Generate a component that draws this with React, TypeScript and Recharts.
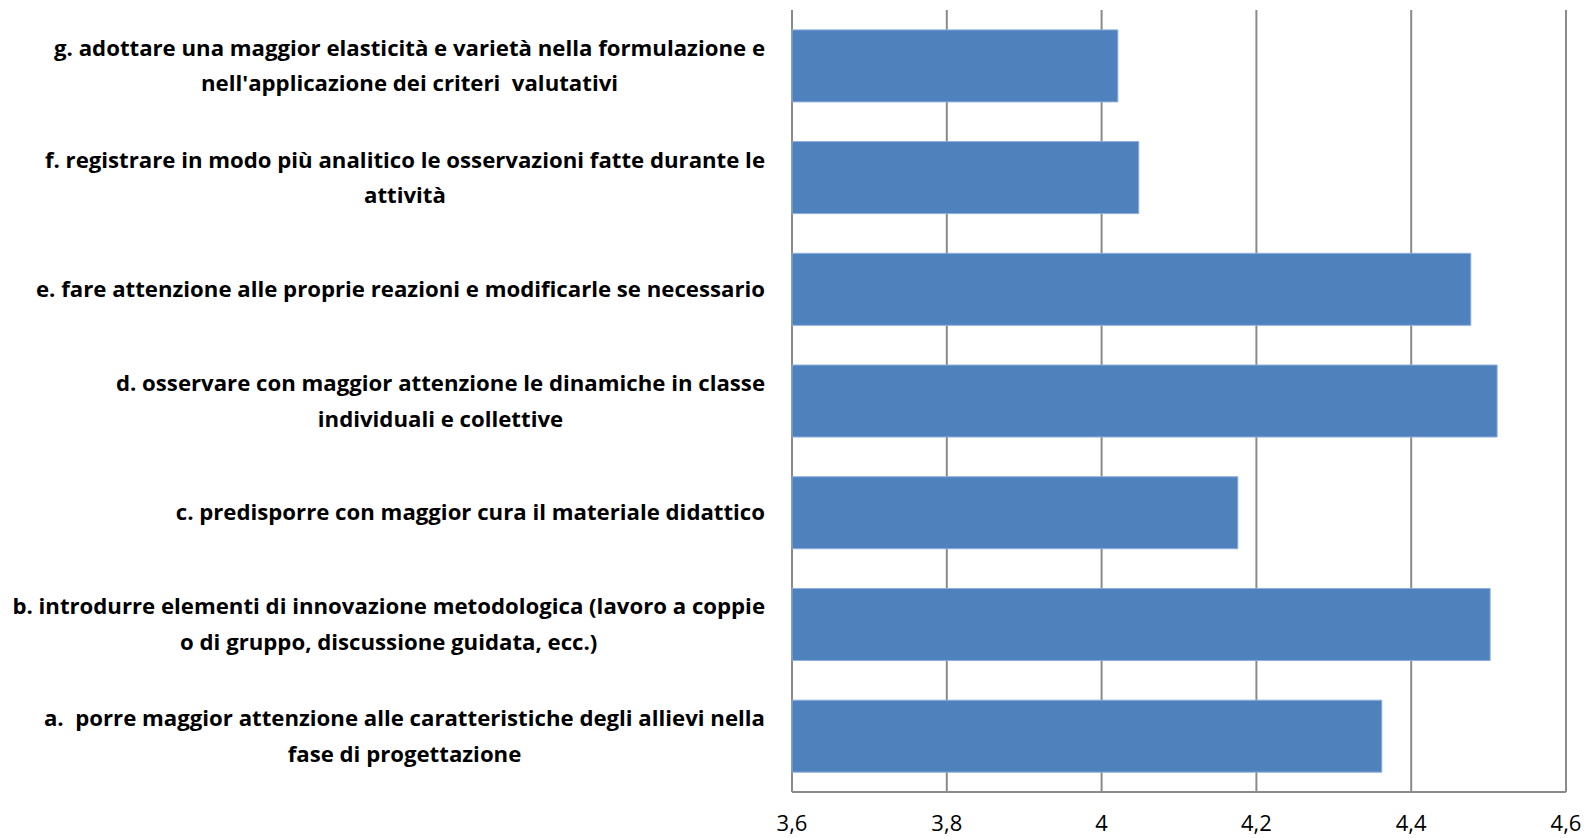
import React from 'react';
import { BarChart, Bar, XAxis, YAxis, CartesianGrid } from 'recharts';

// categories, top to bottom, each split into the lines shown in the picture
const labelLines: string[][] = [
  ['g. adottare una maggior elasticità e varietà nella formulazione e', "nell'applicazione dei criteri  valutativi"],
  ['f. registrare in modo più analitico le osservazioni fatte durante le', 'attività'],
  ['e. fare attenzione alle proprie reazioni e modificarle se necessario'],
  ['d. osservare con maggior attenzione le dinamiche in classe', 'individuali e collettive'],
  ['c. predisporre con maggior cura il materiale didattico'],
  ['b. introdurre elementi di innovazione metodologica (lavoro a coppie', 'o di gruppo, discussione guidata, ecc.)'],
  ['a.  porre maggior attenzione alle caratteristiche degli allievi nella', 'fase di progettazione'],
];
const categories = ['g', 'f', 'e', 'd', 'c', 'b', 'a'];
const values = [4.021, 4.048, 4.477, 4.511, 4.176, 4.502, 4.362];
const xTicks = [3.6, 3.8, 4, 4.2, 4.4, 4.6];

const chartData = categories.map((c, i) => ({ name: c, value: values[i] }));

const LABEL_FONT = '"Open Sans"';
const LABEL_SIZE = 22.2;
const LINE_GAP = 35.5;

let ctx: CanvasRenderingContext2D | null = null;
const measure = (s: string) => {
  if (!ctx) ctx = document.createElement('canvas').getContext('2d');
  if (!ctx) return s.length * 10;
  ctx.font = `bold ${LABEL_SIZE}px ${LABEL_FONT}`;
  return ctx.measureText(s).width;
};

const CategoryTick = ({ x, y, payload }: any) => {
  const idx = categories.indexOf(payload.value);
  const lines = labelLines[idx] || [];
  const blockW = Math.max(...lines.map(measure));
  const cx = x - 19 - blockW / 2;
  return (
    <text
      textAnchor="middle"
      fontFamily={LABEL_FONT}
      fontWeight="bold"
      fontSize={LABEL_SIZE}
      fill="#000"
    >
      {lines.map((l, i) => (
        <tspan key={i} x={cx} y={y + (i - (lines.length - 1) / 2) * LINE_GAP} dy="0.35em" style={{ whiteSpace: 'pre' }}>
          {l}
        </tspan>
      ))}
    </text>
  );
};

const ValueTick = ({ x, y, payload }: any) => (
  <text x={x} y={y + 31} textAnchor="middle" fontFamily='"Open Sans"' fontSize={22} fill="#000">
    {String(payload.value).replace('.', ',')}
  </text>
);

export default function App() {
  return (
    <div style={{ position: 'absolute', left: 0, top: 0, background: '#fff' }}>
      <BarChart
        width={1585}
        height={838}
        data={chartData}
        layout="vertical"
        margin={{ top: 10, right: 19, left: 0, bottom: 0 }}
        barCategoryGap="17.8%"
      >
        <CartesianGrid horizontal={false} vertical stroke="#8a8a8a" strokeWidth={2} />
        <XAxis
          type="number"
          domain={[3.6, 4.6]}
          ticks={xTicks}
          interval={0}
          tickLine={false}
          axisLine={{ stroke: '#8a8a8a', strokeWidth: 2 }}
          height={46}
          tick={<ValueTick />}
        />
        <YAxis
          type="category"
          dataKey="name"
          width={792}
          tickLine={false}
          axisLine={false}
          interval={0}
          tick={<CategoryTick />}
        />
        <Bar dataKey="value" fill="#4F81BD" stroke="#8eaedb" strokeWidth={1} isAnimationActive={false} />
      </BarChart>
    </div>
  );
}
